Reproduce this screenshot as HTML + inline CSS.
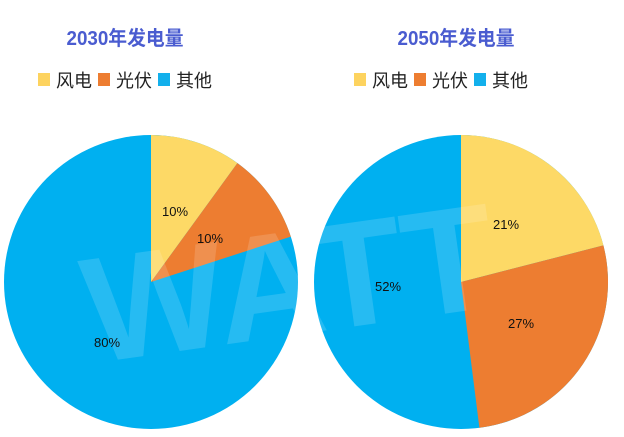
<!DOCTYPE html>
<html><head><meta charset="utf-8"><style>
body{margin:0;background:#fff;}
svg{display:block;}
</style></head><body>
<svg width="624" height="437" viewBox="0 0 624 437" xmlns="http://www.w3.org/2000/svg" font-family="Liberation Sans, Noto Sans CJK SC, sans-serif">
<rect width="624" height="437" fill="#fff"/>
<text x="125" y="45" text-anchor="middle" font-size="20" font-weight="bold" fill="#4a5cd0" textLength="117" lengthAdjust="spacingAndGlyphs">2030年发电量</text>
<text x="456" y="45" text-anchor="middle" font-size="20" font-weight="bold" fill="#4a5cd0" textLength="117" lengthAdjust="spacingAndGlyphs">2050年发电量</text>
<g font-size="18" fill="#222">
<rect x="38" y="73" width="12" height="13" fill="#fdd35f"/><text x="56" y="87">风电</text>
<rect x="98" y="73" width="12" height="13" fill="#ed7d31"/><text x="116" y="87">光伏</text>
<rect x="158" y="73" width="12" height="13" fill="#13b0ec"/><text x="176" y="87">其他</text>
<rect x="354" y="73" width="12" height="13" fill="#fdd35f"/><text x="372" y="87">风电</text>
<rect x="414" y="73" width="12" height="13" fill="#ed7d31"/><text x="432" y="87">光伏</text>
<rect x="474" y="73" width="12" height="13" fill="#13b0ec"/><text x="492" y="87">其他</text>
</g>
<circle cx="151" cy="282" r="147" fill="#00b0f0"/>
<path d="M151 282 L151 135 A147 147 0 0 1 237.4 163.1 Z" fill="#fdd966"/>
<path d="M151 282 L237.4 163.1 A147 147 0 0 1 290.8 236.6 Z" fill="#ed7d31"/>
<circle cx="461" cy="282" r="147" fill="#00b0f0"/>
<path d="M461 282 L461 135 A147 147 0 0 1 603.4 245.4 Z" fill="#fdd966"/>
<path d="M461 282 L603.4 245.4 A147 147 0 0 1 479.4 427.8 Z" fill="#ed7d31"/>
<text x="290" y="335" text-anchor="middle" font-size="150" font-weight="bold" fill="#fff" fill-opacity="0.15" transform="rotate(-8 290 290)">WATT</text>
<g font-size="13" fill="#111" text-anchor="middle">
<text x="175" y="216">10%</text>
<text x="210" y="243">10%</text>
<text x="107" y="347">80%</text>
<text x="506" y="229">21%</text>
<text x="521" y="328">27%</text>
<text x="388" y="291">52%</text>
</g>
</svg>
</body></html>
